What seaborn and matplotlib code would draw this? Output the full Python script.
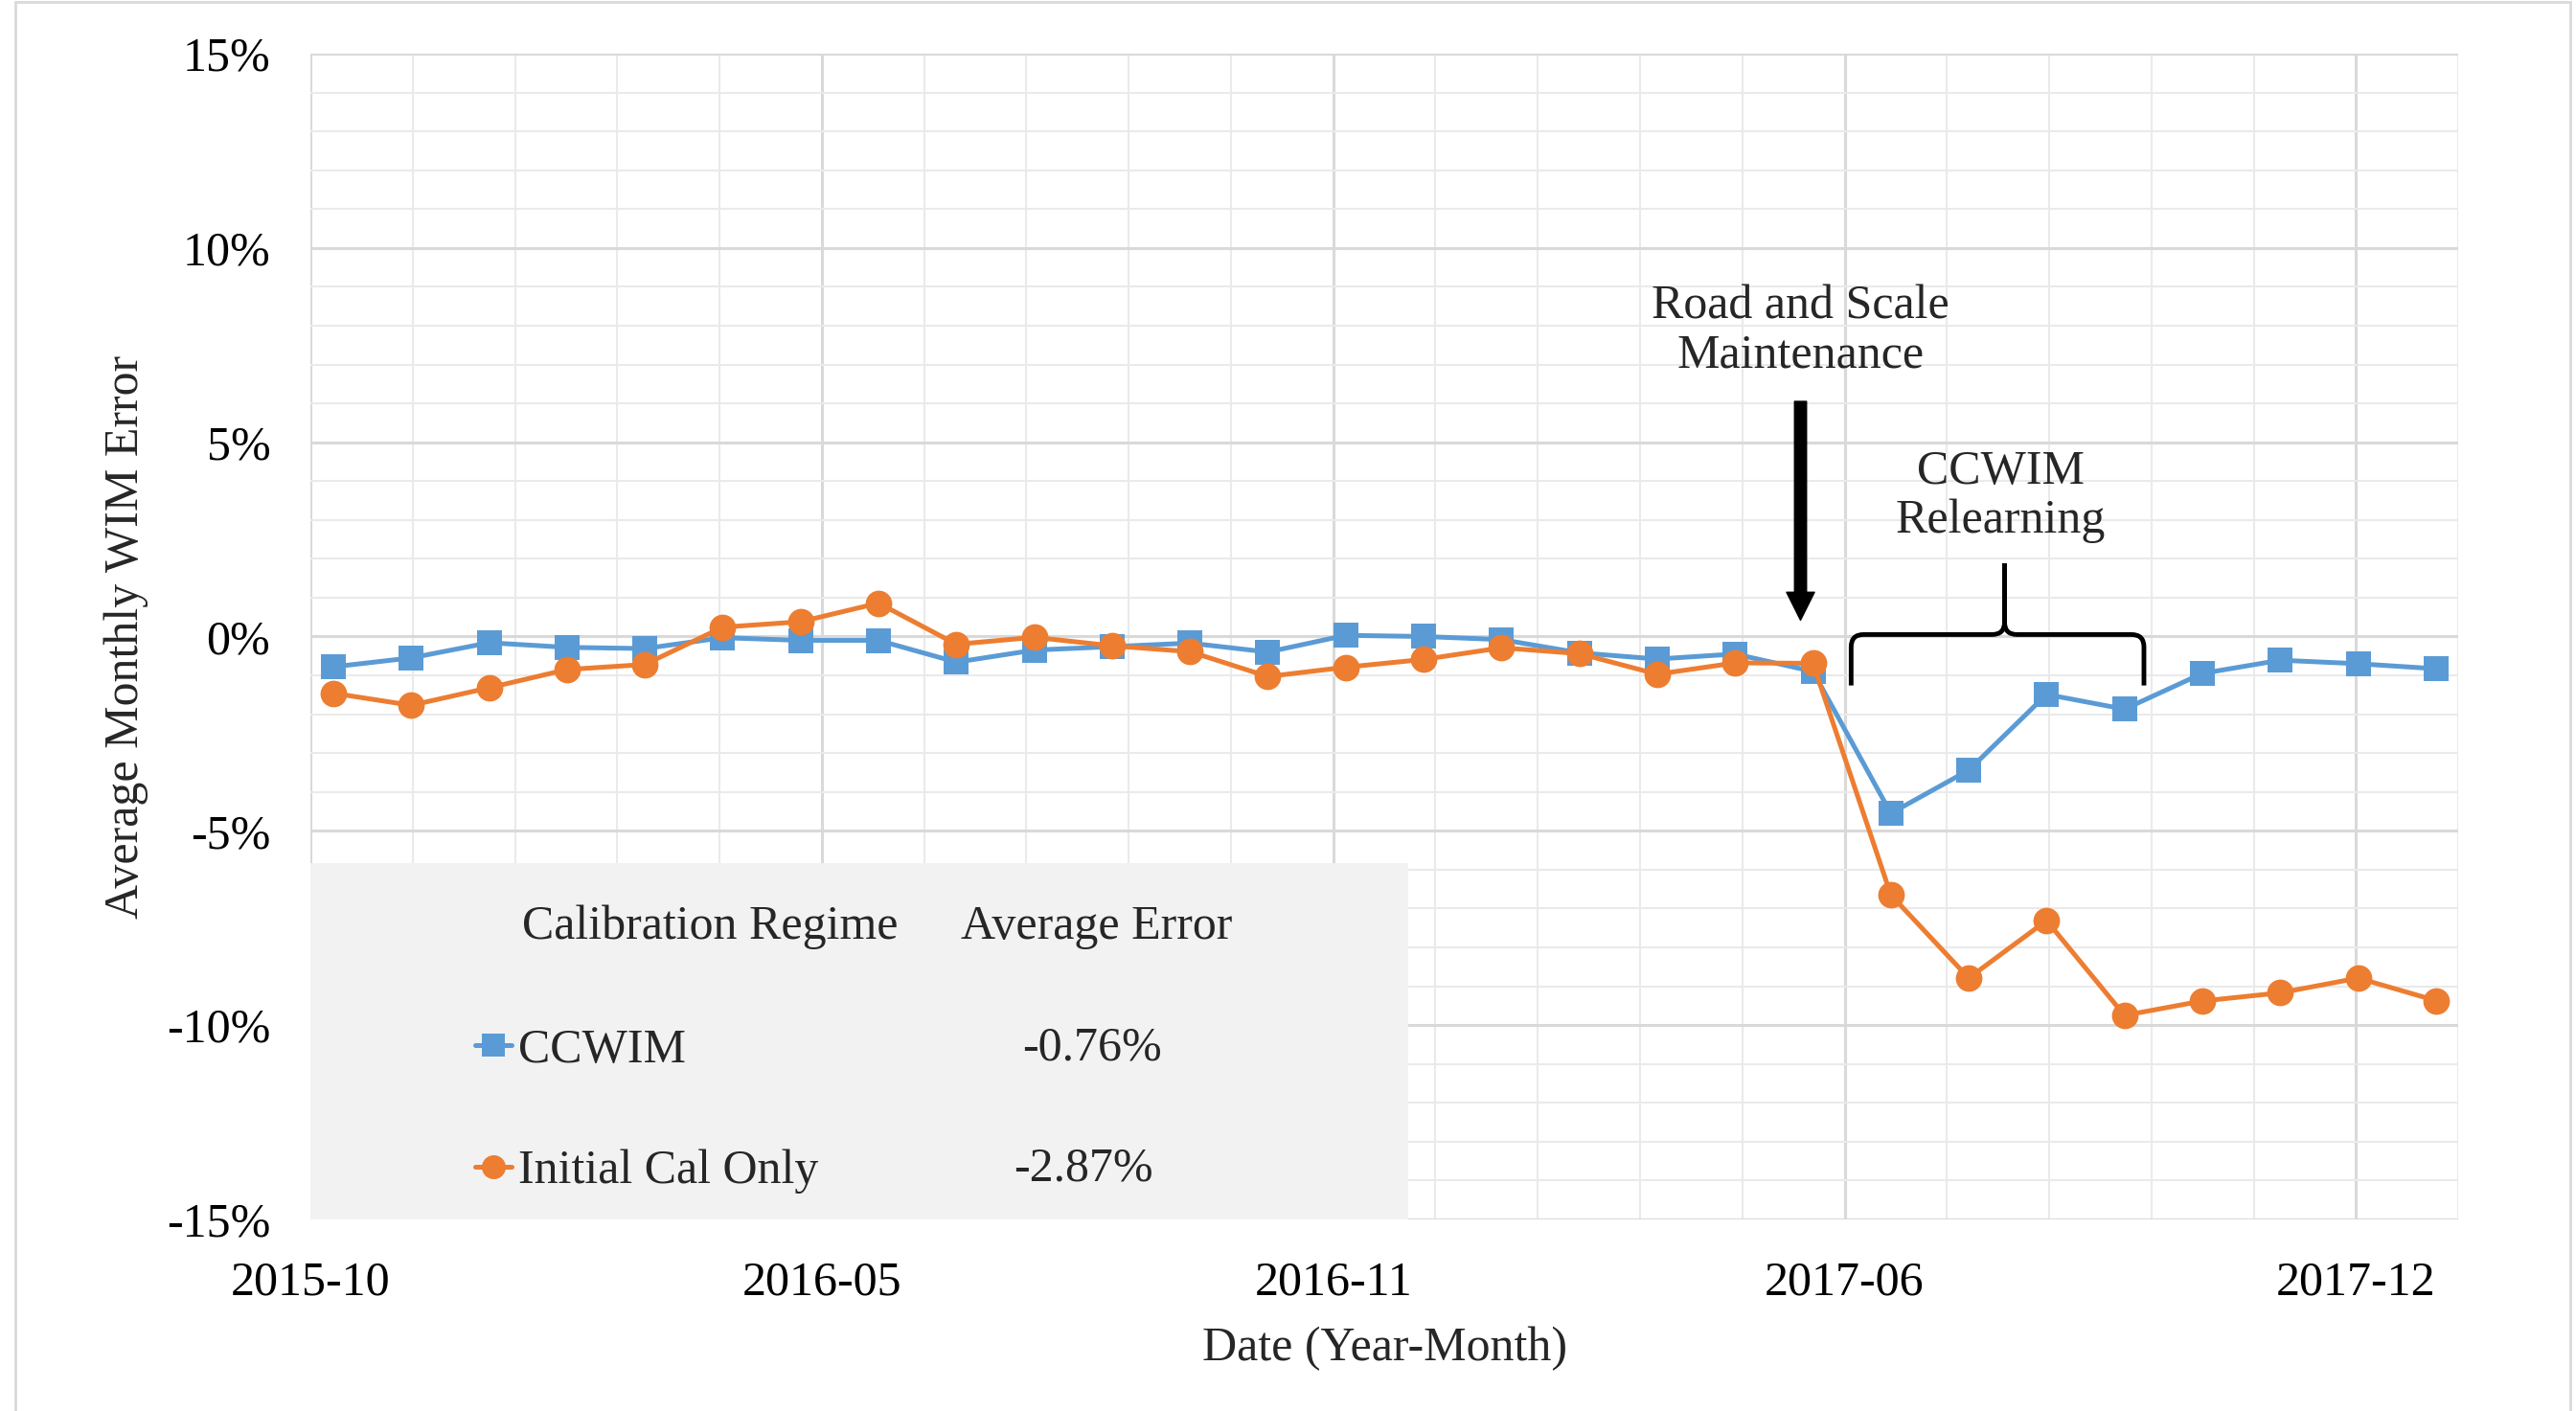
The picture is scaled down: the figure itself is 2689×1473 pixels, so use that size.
import numpy as np
import pandas as pd
import matplotlib.pyplot as plt
import seaborn as sns
from matplotlib.ticker import FixedLocator, MultipleLocator, FuncFormatter, NullFormatter
from matplotlib.patches import Rectangle, PathPatch
from matplotlib.path import Path

# Data (monthly average WIM error, %)
months = ['2015-10', '2015-11', '2015-12', '2016-01', '2016-02', '2016-03', '2016-04',
          '2016-05', '2016-06', '2016-07', '2016-08', '2016-09', '2016-10', '2016-11',
          '2016-12', '2017-01', '2017-02', '2017-03', '2017-04', '2017-05', '2017-06',
          '2017-07', '2017-08', '2017-09', '2017-10', '2017-11', '2017-12', '2018-01']
ccwim = [-0.78, -0.55, -0.16, -0.28, -0.31, -0.03, -0.10, -0.10, -0.66, -0.35,
         -0.26, -0.17, -0.40, 0.03, 0.00, -0.08, -0.42, -0.58, -0.45, -0.90,
         -4.55, -3.44, -1.49, -1.87, -0.95, -0.61, -0.70, -0.83]
initial_cal = [-1.46, -1.77, -1.32, -0.85, -0.72, 0.24, 0.38, 0.86, -0.20, -0.02,
               -0.24, -0.39, -1.03, -0.79, -0.59, -0.29, -0.44, -0.97, -0.68, -0.69,
               -6.65, -8.79, -7.31, -9.75, -9.38, -9.17, -8.79, -9.37]
tick_labels = ['2015-10', '2016-05', '2016-11', '2017-06', '2017-12']
regimes = ['CCWIM', 'Initial Cal Only']
avg_errors = ['-0.76%', '-2.87%']

df = pd.DataFrame({'idx': np.arange(len(months)), 'month': months,
                   'CCWIM': ccwim, 'Initial Cal Only': initial_cal})

blue = '#5B9BD5'
orange = '#ED7D31'

sns.set_theme(style='white')
plt.rcParams['font.family'] = ['Liberation Serif', 'DejaVu Serif']

fig = plt.figure(figsize=(26.89, 14.73), dpi=100)
ax = fig.add_axes([0.1205, 0.1358, 0.8338, 0.8262])

# outer frame of the picture
fig.add_artist(Rectangle((16 / 2689, -0.01), 2667 / 2689, 1.0 - 2 / 1473 + 0.01,
                         transform=fig.transFigure, fill=False,
                         edgecolor='#d9d9d9', lw=2))

sns.lineplot(data=df, x='idx', y='CCWIM', ax=ax, color=blue, lw=3.6,
             marker='s', markersize=19, markeredgewidth=0, label='CCWIM')
sns.lineplot(data=df, x='idx', y='Initial Cal Only', ax=ax, color=orange, lw=3.6,
             marker='o', markersize=20, markeredgewidth=0, label='Initial Cal Only')

# axes scales
step = 6.567
start = -0.295
ax.set_xlim(start, start + 4.2 * step)
ax.set_ylim(-15, 15)
ax.xaxis.set_major_locator(FixedLocator([start + i * step for i in range(len(tick_labels))]))
ax.xaxis.set_minor_locator(FixedLocator([start + i * step / 5 for i in range(22)]))
ax.set_xticklabels(tick_labels)
ax.xaxis.set_minor_formatter(NullFormatter())
ax.yaxis.set_major_locator(MultipleLocator(5))
ax.yaxis.set_minor_locator(MultipleLocator(1))
ax.yaxis.set_major_formatter(FuncFormatter(lambda v, p: f'{v:.0f}%'))

ax.set_axisbelow(True)
ax.grid(which='major', color='#d9d9d9', lw=2.2)
ax.grid(which='minor', color='#eaeaea', lw=1.5)
for s in ax.spines.values():
    s.set_visible(False)
ax.tick_params(which='both', length=0, labelsize=36, colors='black')
ax.tick_params(axis='y', pad=30)
ax.tick_params(axis='x', pad=31)

ax.set_xlabel('Date (Year-Month)', fontsize=36, labelpad=16)
ax.set_ylabel('Average Monthly WIM Error', fontsize=36, labelpad=14)

# legend table box
ax.add_patch(Rectangle((-0.002, 0.0), 0.513, 0.306, transform=ax.transAxes,
                       facecolor='#f2f2f2', edgecolor='none', zorder=2.5))
handles = ax.get_lines()[:2]
ax.legend(handles, regimes, loc='upper left', bbox_to_anchor=(0.0768, 0.164),
          frameon=False, fontsize=36, handlelength=0.75, handletextpad=0.15,
          borderpad=0, borderaxespad=0, labelspacing=1.6, markerscale=0.9)
ax.text(0.186, 0.251, 'Calibration Regime', transform=ax.transAxes, fontsize=36,
        ha='center', va='center', zorder=3)
ax.text(0.366, 0.251, 'Average Error', transform=ax.transAxes, fontsize=36,
        ha='center', va='center', zorder=3)
for yy, xx, txt in zip([0.147, 0.043], [0.364, 0.360], avg_errors):
    ax.text(xx, yy, txt, transform=ax.transAxes, fontsize=36,
            ha='center', va='center', zorder=3)

# maintenance arrow + note
ax.annotate('', xy=(18.84, 0.42), xytext=(18.84, 6.05),
            arrowprops=dict(arrowstyle='simple,head_length=1.05,head_width=1.05,tail_width=0.45',
                            mutation_scale=20, color='black', shrinkA=0, shrinkB=0))
ax.text(18.84, 7.85, 'Road and Scale\nMaintenance', fontsize=36, ha='center',
        va='center', linespacing=1.12)

# relearning brace
x0, x1, xm = 19.49, 23.25, 21.46
yb, ye, yt = 0.05, -1.26, 1.88
rx, ry = 0.16, 0.32
verts = [(x0, ye), (x0, yb - ry), (x0, yb), (x0 + rx, yb), (xm - rx, yb),
         (xm, yb), (xm, yb + ry), (xm, yt), (xm, yb + ry), (xm, yb), (xm + rx, yb),
         (x1 - rx, yb), (x1, yb), (x1, yb - ry), (x1, ye)]
codes = [Path.MOVETO, Path.LINETO, Path.CURVE3, Path.CURVE3, Path.LINETO,
         Path.CURVE3, Path.CURVE3, Path.LINETO, Path.LINETO, Path.CURVE3, Path.CURVE3,
         Path.LINETO, Path.CURVE3, Path.CURVE3, Path.LINETO]
ax.add_patch(PathPatch(Path(verts, codes), fill=False, lw=3.5, edgecolor='black'))
ax.text(xm - 0.05, 3.6, 'CCWIM\nRelearning', fontsize=36, ha='center',
        va='center', linespacing=1.12)

plt.savefig('out.png', dpi=100)
plt.close()
